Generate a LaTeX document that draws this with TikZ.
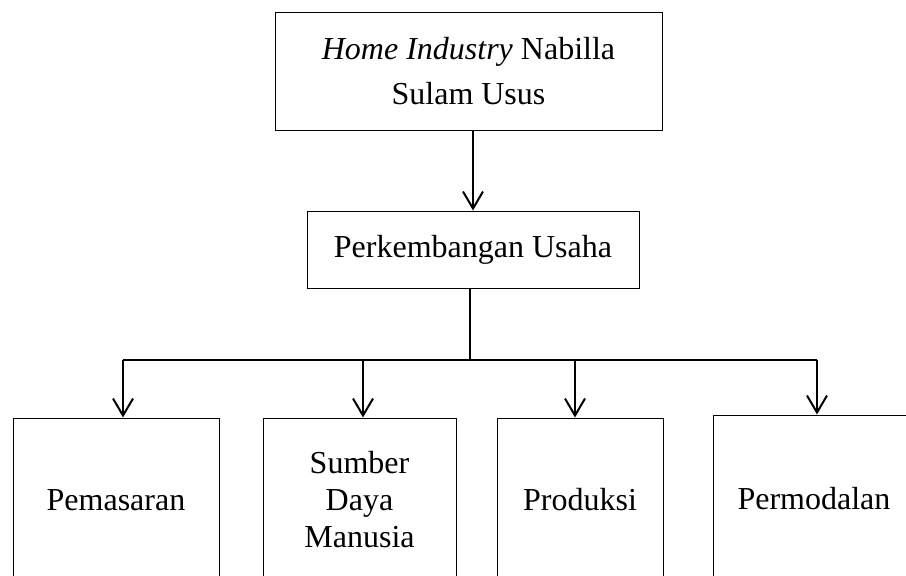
\documentclass[tikz,border=0pt]{standalone}
\usepackage{fontspec}
\setmainfont{Liberation Serif}
\usepackage{tikz}
\usetikzlibrary{arrows.meta,positioning}

\begin{document}
\begin{tikzpicture}[
    x=0.5pt,y=-0.5pt,
    box/.style={draw=black, line width=0.5pt, fill=white, inner sep=0pt, align=center, font=\fontsize{16}{22.5}\selectfont},
    edge/.style={-{Straight Barb[length=8.5pt,width=10pt,line width=1pt]}, draw=black, line width=1pt},
    line/.style={draw=black, line width=1pt}
  ]
    \useasboundingbox (0,0) rectangle (906,575);
    \clip (0,0) rectangle (906,575);

    \node[box, minimum width=193.5pt, minimum height=59pt] (top) at (468.5,71) {\textit{Home Industry} Nabilla\\Sulam Usus};
    \node[box, minimum width=166pt, minimum height=38.5pt] (mid) at (473,249.5) {Perkembangan Usaha};

    \node[box, minimum width=103pt, minimum height=82pt] (b1) at (116,500) {Pemasaran};
    \node[box, minimum width=96.5pt, minimum height=82pt, font=\fontsize{16}{18.5}\selectfont] (b2) at (359.5,500) {Sumber\\Daya\\Manusia};
    \node[box, minimum width=83pt, minimum height=82pt] (b3) at (580,500) {Produksi};
    \node[box, minimum width=101pt, minimum height=84pt] (b4) at (814,499) {Permodalan};

    \coordinate (j) at (470,360);
    \coordinate (t1) at (123,360);
    \coordinate (t2) at (363,360);
    \coordinate (t3) at (575,360);
    \coordinate (t4) at (817,360);

    \draw[edge] (top.south -| mid.north) -- (mid.north);
    \draw[line] (mid.south -| j) -- (j);
    \draw[line] (t1) -- (t4);
    \draw[edge] (t1) -- (t1 |- b1.north);
    \draw[edge] (t2) -- (t2 |- b2.north);
    \draw[edge] (t3) -- (t3 |- b3.north);
    \draw[edge] (t4) -- (t4 |- b4.north);
  \end{tikzpicture}
\end{document}
